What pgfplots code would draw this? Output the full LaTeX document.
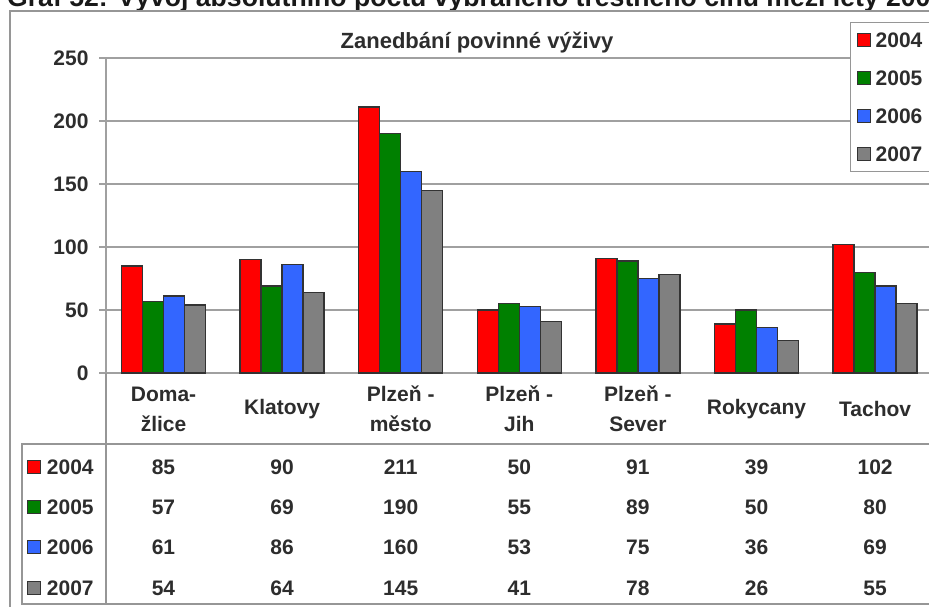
\documentclass[border=0pt]{standalone}
\usepackage{fontspec}
\setmainfont{Liberation Sans}
\usepackage{pgfplots}
\pgfplotsset{compat=1.18}
\definecolor{txt}{RGB}{45,45,45}
\definecolor{gridc}{RGB}{160,160,160}
\definecolor{framec}{RGB}{150,150,150}
\definecolor{c04}{RGB}{255,0,0}
\definecolor{c05}{RGB}{0,128,0}
\definecolor{c06}{RGB}{51,102,255}
\definecolor{c07}{RGB}{128,128,128}
\definecolor{edge}{RGB}{51,51,51}
\newcommand{\bigf}{\fontsize{21}{30}\selectfont\bfseries}
\begin{document}
\begin{tikzpicture}[x=1pt,y=1pt]
% cut-off page header
\node[anchor=base west, inner sep=0, font=\fontsize{26.6}{30}\selectfont\bfseries, text=black!90] at (7,599.5) {Graf 52: Vývoj absolutního počtu vybraného trestného činu mezi lety 200};
% outer chart frame
\draw[framec, line width=1.6pt] (10,-10) -- (10,595) -- (940,595);
% chart title
\node[font=\fontsize{22}{26}\selectfont\bfseries, text=txt] at (477,563) {Zanedbání povinné výživy};
\begin{axis}[
  at={(106pt,233pt)}, anchor=south west,
  scale only axis, width=828.4pt, height=315pt,
  xmin=-0.485, xmax=6.5, ymin=0, ymax=250,
  ybar=0pt, bar width=21pt,
  axis lines*=left, axis line style={gridc, line width=1.3pt},
  ymajorgrids, grid style={gridc, line width=1.3pt},
  ytick={0,50,...,250},
  tick align=outside, major tick length=7pt,
  ytick style={gridc, line width=1.3pt},
  xtick={0,...,6}, xtick style={draw=none},
  xticklabels={{Doma-\\žlice},Klatovy,{Plzeň -\\město},{Plzeň -\\Jih},{Plzeň -\\Sever},Rokycany,Tachov},
  xticklabel style={align=center, anchor=center, yshift=-29pt, font=\bigf, text=txt},
  yticklabel style={font=\bigf, text=txt, xshift=-7pt},
  /pgf/number format/assume math mode=true,
  legend style={at={(0.8981,1.1143)}, anchor=north west, draw=framec, line width=1.3pt, fill=white,
    font=\bigf, text=txt, row sep=19pt, column sep=3pt, inner xsep=6pt, inner ysep=8pt,
    nodes={inner sep=2pt, text height=15pt, text depth=0pt}},
  legend cell align=left,
  legend image code/.code={\draw[#1, draw=edge, line width=1pt] (0pt,-6.5pt) rectangle (13pt,6.5pt);},
]
\addplot[fill=c04, draw=edge, line width=1.3pt] coordinates {(0,85) (1,90) (2,211) (3,50) (4,91) (5,39) (6,102)};
\addplot[fill=c05, draw=edge, line width=1.3pt] coordinates {(0,57) (1,69) (2,190) (3,55) (4,89) (5,50) (6,80)};
\addplot[fill=c06, draw=edge, line width=1.3pt] coordinates {(0,61) (1,86) (2,160) (3,53) (4,75) (5,36) (6,69)};
\addplot[fill=c07, draw=edge, line width=1.3pt] coordinates {(0,54) (1,64) (2,145) (3,41) (4,78) (5,26) (6,55)};
\legend{2004,2005,2006,2007}
\end{axis}
% data table
\draw[framec, line width=1.3pt] (106,233) -- (106,2);
\draw[framec, line width=1.3pt] (22,2) rectangle (945,162);
\foreach \yr/\yy/\col in {2004/139/c04,2005/99/c05,2006/59/c06,2007/18/c07}{
  \draw[fill=\col, draw=edge, line width=1pt] (27.3,\yy-6.5) rectangle (40.7,\yy+6.5);
  \node[anchor=west, inner sep=0, font=\bigf, text=txt] at (46.7,\yy) {\yr};
}
\foreach \v [count=\i from 0] in {85,90,211,50,91,39,102}
  \node[font=\bigf, text=txt, inner sep=0] at (163.5+118.6*\i,139) {\v};
\foreach \v [count=\i from 0] in {57,69,190,55,89,50,80}
  \node[font=\bigf, text=txt, inner sep=0] at (163.5+118.6*\i,99) {\v};
\foreach \v [count=\i from 0] in {61,86,160,53,75,36,69}
  \node[font=\bigf, text=txt, inner sep=0] at (163.5+118.6*\i,59) {\v};
\foreach \v [count=\i from 0] in {54,64,145,41,78,26,55}
  \node[font=\bigf, text=txt, inner sep=0] at (163.5+118.6*\i,18) {\v};
\pgfresetboundingbox
\path[use as bounding box] (0,0) rectangle (929,606);
\end{tikzpicture}
\end{document}
